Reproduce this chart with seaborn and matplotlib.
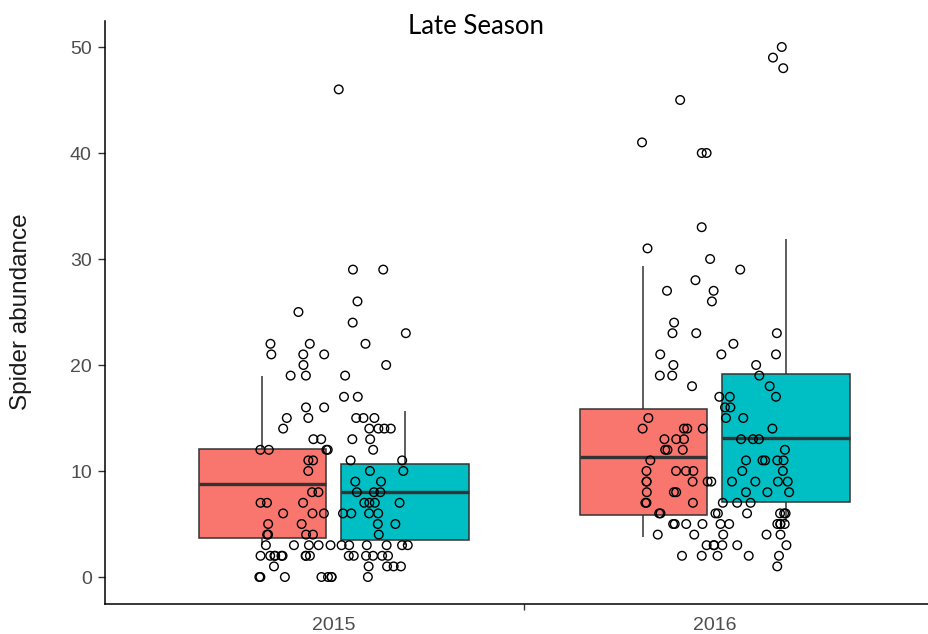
import numpy as np
import pandas as pd
import matplotlib
matplotlib.use("Agg")
import matplotlib.pyplot as plt
import seaborn as sns

# Categories
years = ["2015", "2016"]
groups = ["Group 1", "Group 2"]
group_colors = ["#F8766D", "#00BFC4"]

# Box summaries, one entry per (year, group): 2015 G1, 2015 G2, 2016 G1, 2016 G2
box_year = ["2015", "2015", "2016", "2016"]
box_group = ["Group 1", "Group 2", "Group 1", "Group 2"]
box_low = [3.0, 3.0, 3.8, 5.2]
box_q1 = [3.65, 3.5, 5.85, 7.05]
box_median = [8.77, 8.0, 11.35, 13.08]
box_q3 = [12.05, 10.63, 15.85, 19.15]
box_high = [19.0, 15.7, 29.3, 31.86]

# Individual spider counts per year: abundance value and how many samples had it
levels_2015 = [0, 1, 2, 3, 4, 5, 6, 7, 8, 9, 10, 11, 12, 13, 14, 15, 16, 17,
               19, 20, 21, 22, 23, 24, 25, 26, 29, 46]
counts_2015 = [8, 5, 15, 11, 5, 4, 7, 7, 5, 2, 3, 4, 5, 4, 5, 5, 2, 2,
               3, 2, 3, 3, 1, 1, 1, 1, 2, 1]
levels_2016 = [1, 2, 3, 4, 5, 6, 7, 8, 9, 10, 11, 12, 13, 14, 15, 16, 17, 18,
               19, 20, 21, 22, 23, 24, 26, 27, 28, 29, 30, 31, 33, 40, 41, 45,
               48, 49, 50]
counts_2016 = [1, 5, 6, 5, 10, 8, 6, 6, 9, 6, 6, 4, 6, 5, 3, 2, 3, 2,
               3, 2, 3, 1, 3, 1, 1, 2, 1, 1, 1, 1, 1, 2, 1, 1,
               1, 1, 1]

# Long-format table for the boxes (five-number summary per box)
box_rows = []
for yr, grp, lo, q1, md, q3, hi in zip(box_year, box_group, box_low, box_q1,
                                       box_median, box_q3, box_high):
    for v in (lo, q1, md, q3, hi):
        box_rows.append({"year": yr, "group": grp, "abundance": v})
box_df = pd.DataFrame(box_rows)

# Long-format table for the points
pts_df = pd.concat([
    pd.DataFrame({"year": "2015", "abundance": np.repeat(levels_2015, counts_2015)}),
    pd.DataFrame({"year": "2016", "abundance": np.repeat(levels_2016, counts_2016)}),
], ignore_index=True)

sns.set_style("white")
plt.rcParams["font.family"] = ["Liberation Sans", "DejaVu Sans"]

W, H = 929, 634
fig = plt.figure(figsize=(W / 100, H / 100), dpi=100)
ax = fig.add_axes([105 / W, 1 - 603.5 / H, 838.2 / W, (603.5 - 20.5) / H])

sns.boxplot(
    data=box_df, x="year", y="abundance", hue="group",
    order=years, hue_order=groups, palette=group_colors, saturation=1,
    width=0.75, gap=0.11, showcaps=False, showfliers=False,
    linewidth=1.1, linecolor="#333333",
    medianprops=dict(linewidth=2.4, color="#333333"),
    legend=False, ax=ax,
)

np.random.seed(11)
n_before = len(ax.collections)
sns.stripplot(
    data=pts_df, x="year", y="abundance", order=years,
    jitter=0.2, size=6.2, color="black", edgecolor="black",
    linewidth=1.0, zorder=3, ax=ax,
)
for coll in ax.collections[n_before:]:
    coll.set_facecolor("none")
    coll.set_edgecolor("black")

ax.set_xlim(-0.6, 1.6)
ax.set_ylim(-2.5, 52.5)
ax.set_yticks([0, 10, 20, 30, 40, 50])
ax.set_xticks([0, 1])
ax.set_xticklabels(years)
ax.set_xticks([0.5], minor=True)

ax.tick_params(axis="y", which="major", length=5, width=1, color="#333333",
               pad=4.5, labelsize=14, labelcolor="#4D4D4D", left=True)
ax.tick_params(axis="x", which="major", length=0, pad=10,
               labelsize=14, labelcolor="#4D4D4D")
ax.tick_params(axis="x", which="minor", length=4, width=1, color="#333333",
               bottom=True)

for side in ("top", "right"):
    ax.spines[side].set_visible(False)
for side in ("left", "bottom"):
    ax.spines[side].set_color("black")
    ax.spines[side].set_linewidth(1.1)

ax.set_xlabel("")
ax.set_ylabel("Spider abundance", fontsize=17.5, color="#1a1a1a")
ax.yaxis.set_label_coords(-0.087, 0.5)

fig.text(476.5 / W, 1 - 34 / H, "Late Season", ha="center", va="baseline",
         fontsize=18.5, family=["Lato", "DejaVu Sans"], color="black")

fig.savefig("out.png", dpi=100)
